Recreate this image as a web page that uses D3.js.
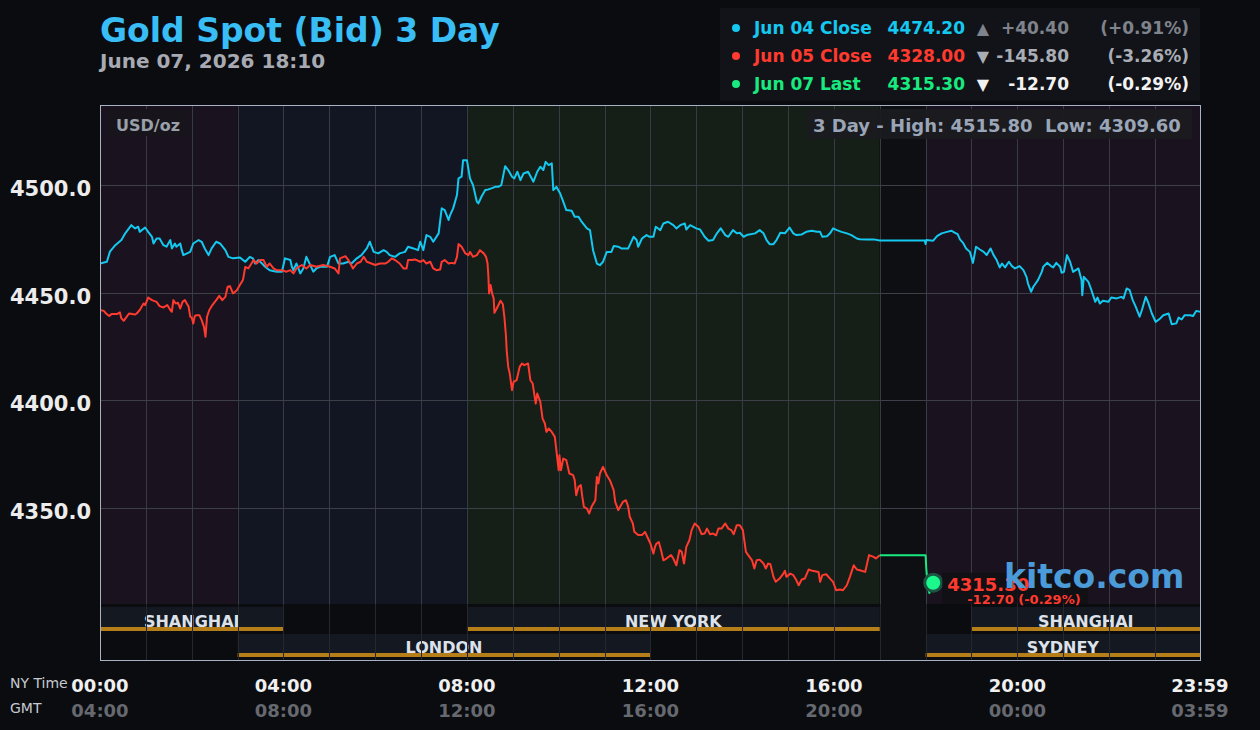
<!DOCTYPE html>
<html>
<head>
<meta charset="utf-8">
<script src="https://cdn.jsdelivr.net/npm/d3@7"></script>
<style>
body { margin: 0; background: #0b0c10; }
svg { display: block; }
text { font-family: "DejaVu Sans", sans-serif; white-space: pre; }
</style>
</head>
<body>
<div id="chart"></div>
<script>
// minutes after 00:00 NY time, price
var jun04 = [[0,4463.5],[9,4464.3],[13,4469.0],[20,4472.0],[28,4474.4],[33,4477.5],[41,4481.3],[46,4479.8],[50,4480.6],[52,4478.2],[59,4480.2],[63,4478.2],[68,4475.9],[70,4472.8],[74,4475.1],[78,4475.1],[83,4472.0],[87,4471.3],[92,4474.4],[94,4470.5],[98,4472.8],[100,4471.3],[105,4472.8],[107,4469.7],[109,4467.4],[118,4468.9],[122,4472.8],[129,4474.4],[133,4473.6],[137,4470.5],[142,4467.4],[146,4470.5],[152,4473.6],[157,4472.8],[164,4469.7],[168,4466.6],[174,4465.9],[183,4466.3],[190,4464.3],[196,4466.6],[200,4465.9],[203,4463.5],[207,4465.1],[212,4463.5],[216,4462.0],[222,4460.4],[231,4459.7],[238,4459.7],[242,4465.9],[249,4465.1],[251,4462.0],[253,4460.4],[257,4463.5],[262,4458.9],[266,4461.2],[270,4466.6],[275,4462.8],[279,4459.7],[283,4461.2],[288,4462.0],[297,4462.0],[301,4466.6],[307,4467.4],[312,4463.5],[318,4463.5],[325,4464.3],[329,4463.5],[336,4465.9],[342,4467.4],[349,4470.5],[353,4473.6],[358,4468.9],[364,4468.2],[371,4469.7],[375,4468.9],[379,4467.4],[386,4466.6],[392,4468.2],[399,4468.9],[403,4471.3],[410,4470.5],[416,4469.7],[419,4473.6],[423,4469.7],[427,4476.7],[432,4475.9],[436,4473.6],[443,4477.5],[447,4489.1],[451,4488.3],[456,4483.7],[458,4486.0],[462,4489.1],[467,4495.3],[469,4503.0],[473,4503.8],[475,4511.5],[480,4511.5],[484,4503.0],[488,4499.9],[493,4492.2],[495,4491.4],[499,4494.5],[504,4497.6],[508,4497.9],[512,4498.4],[517,4499.1],[521,4499.1],[525,4499.9],[530,4508.7],[534,4506.9],[539,4503.8],[542,4503.0],[546,4506.1],[550,4502.2],[554,4505.3],[560,4506.1],[567,4501.5],[572,4506.1],[576,4508.4],[580,4506.9],[583,4510.7],[587,4509.2],[591,4510.0],[593,4497.6],[597,4499.1],[602,4496.0],[606,4492.2],[610,4488.3],[617,4488.0],[621,4485.2],[626,4485.2],[630,4482.9],[637,4479.8],[641,4479.0],[645,4469.7],[650,4463.5],[654,4462.7],[658,4464.3],[663,4468.9],[669,4468.9],[672,4471.6],[678,4471.3],[682,4470.5],[691,4470.5],[698,4475.9],[702,4474.4],[704,4471.3],[709,4475.1],[715,4476.7],[719,4475.9],[724,4475.9],[727,4480.6],[733,4479.0],[737,4482.1],[743,4482.9],[750,4481.3],[754,4479.8],[759,4481.3],[765,4482.1],[767,4479.3],[772,4481.3],[780,4479.8],[785,4479.3],[791,4475.9],[796,4474.1],[802,4474.4],[807,4477.5],[812,4479.8],[818,4476.7],[822,4475.9],[828,4479.0],[833,4477.5],[837,4477.8],[842,4475.9],[846,4476.7],[857,4477.5],[863,4479.0],[868,4477.5],[872,4474.4],[876,4472.5],[881,4472.5],[885,4474.4],[890,4477.8],[896,4477.5],[902,4480.2],[907,4477.5],[911,4476.7],[918,4477.0],[924,4478.2],[931,4478.7],[938,4478.2],[942,4478.2],[945,4475.9],[951,4476.2],[955,4477.5],[959,4479.8],[964,4479.0],[970,4478.2],[977,4477.5],[983,4476.7],[990,4475.1],[994,4474.8],[1003,4474.7],[1012,4474.7],[1020,4474.2],[1079,4474.2],[1080,4472.5],[1081,4474.4],[1090,4474.1],[1095,4476.2],[1101,4477.5],[1108,4478.2],[1114,4478.7],[1118,4477.8],[1122,4477.1],[1125,4474.7],[1129,4473.1],[1133,4470.5],[1138,4468.9],[1142,4463.8],[1146,4471.3],[1151,4470.0],[1156,4468.9],[1160,4467.4],[1165,4470.5],[1169,4467.4],[1173,4465.1],[1177,4461.7],[1180,4463.5],[1184,4461.7],[1189,4464.3],[1193,4462.3],[1197,4461.2],[1203,4462.3],[1208,4460.4],[1212,4457.3],[1214,4454.2],[1218,4450.4],[1221,4452.7],[1227,4455.8],[1232,4459.6],[1234,4462.0],[1239,4463.8],[1244,4462.3],[1247,4461.7],[1251,4463.8],[1256,4462.0],[1258,4459.2],[1261,4459.6],[1265,4467.4],[1269,4464.3],[1273,4459.6],[1280,4461.2],[1284,4455.8],[1285,4448.8],[1287,4457.3],[1293,4455.0],[1297,4451.1],[1302,4445.7],[1305,4447.7],[1308,4444.9],[1312,4446.2],[1319,4445.7],[1323,4447.7],[1330,4447.3],[1336,4448.0],[1339,4447.3],[1343,4451.9],[1347,4451.1],[1351,4446.5],[1355,4443.4],[1360,4438.8],[1363,4441.9],[1368,4448.0],[1371,4445.7],[1376,4440.3],[1381,4436.4],[1387,4438.0],[1391,4439.5],[1398,4440.3],[1402,4435.3],[1408,4435.7],[1411,4438.4],[1415,4437.5],[1419,4439.5],[1426,4439.5],[1430,4439.1],[1434,4441.5],[1439,4441.1]];

var jun05 = [[0,4441.9],[5,4441.5],[8,4440.3],[12,4439.1],[15,4440.0],[22,4440.0],[26,4440.8],[28,4438.0],[31,4436.9],[35,4438.8],[38,4440.3],[46,4439.8],[48,4440.3],[52,4441.9],[57,4444.9],[59,4444.2],[63,4447.7],[68,4446.5],[74,4445.7],[78,4443.7],[83,4443.1],[88,4444.2],[92,4441.9],[94,4441.1],[96,4446.5],[99,4444.9],[102,4445.3],[105,4442.6],[108,4445.7],[111,4446.5],[116,4443.4],[118,4438.8],[120,4438.4],[122,4435.6],[124,4439.1],[126,4439.5],[130,4439.5],[133,4437.2],[136,4434.1],[138,4429.5],[140,4438.8],[143,4441.9],[147,4444.2],[152,4446.5],[156,4448.5],[160,4446.5],[164,4448.0],[167,4452.7],[170,4453.0],[174,4449.6],[179,4451.1],[183,4453.5],[187,4455.8],[190,4461.9],[194,4461.2],[201,4465.1],[205,4463.5],[209,4465.1],[214,4465.1],[218,4462.0],[222,4463.5],[227,4461.2],[231,4460.4],[238,4460.4],[244,4459.7],[249,4460.4],[253,4458.9],[257,4461.2],[264,4462.8],[270,4461.2],[275,4462.8],[283,4462.0],[292,4462.8],[301,4462.0],[307,4461.2],[312,4458.9],[314,4465.9],[321,4466.9],[325,4465.1],[331,4461.2],[336,4463.5],[341,4464.3],[345,4466.6],[349,4464.3],[355,4463.5],[360,4462.8],[366,4463.5],[373,4463.5],[377,4464.3],[382,4465.9],[386,4465.1],[392,4463.5],[397,4461.2],[401,4461.2],[403,4465.1],[408,4465.1],[412,4465.4],[419,4464.3],[423,4465.1],[427,4463.5],[432,4464.3],[436,4461.2],[440,4460.4],[445,4460.7],[447,4464.3],[451,4465.1],[456,4463.5],[460,4463.8],[464,4463.5],[467,4466.6],[469,4472.5],[473,4471.3],[478,4468.2],[482,4467.4],[484,4468.9],[488,4466.6],[493,4467.4],[497,4469.7],[502,4468.2],[505,4466.6],[507,4463.5],[508,4458.1],[509,4449.6],[511,4453.5],[513,4449.6],[515,4447.3],[516,4440.6],[519,4442.6],[524,4446.2],[527,4444.6],[529,4438.7],[531,4430.2],[532,4423.3],[534,4415.5],[536,4412.4],[539,4404.7],[541,4408.5],[545,4409.3],[549,4415.5],[552,4417.1],[555,4416.3],[560,4417.1],[563,4409.3],[566,4407.8],[568,4403.1],[570,4398.5],[572,4403.1],[576,4399.3],[579,4391.5],[582,4389.2],[584,4385.3],[587,4386.9],[591,4385.3],[595,4383.0],[597,4376.8],[600,4367.5],[601,4374.5],[603,4367.5],[606,4372.9],[610,4372.2],[614,4366.0],[619,4365.2],[621,4362.9],[623,4355.9],[626,4359.8],[629,4360.6],[631,4355.1],[633,4350.5],[637,4349.7],[640,4347.4],[643,4350.5],[648,4353.6],[650,4364.4],[652,4361.4],[654,4366.0],[658,4369.1],[663,4365.2],[667,4362.9],[672,4358.3],[674,4352.8],[678,4349.0],[684,4352.8],[688,4353.6],[691,4350.5],[693,4345.9],[697,4342.8],[699,4338.9],[704,4337.4],[709,4337.4],[713,4338.9],[717,4335.8],[720,4333.5],[722,4331.2],[724,4328.8],[726,4331.9],[728,4333.5],[731,4334.2],[734,4330.4],[737,4325.7],[741,4326.5],[747,4328.1],[750,4326.5],[754,4323.4],[758,4330.4],[761,4329.6],[764,4324.2],[767,4331.9],[771,4335.0],[774,4339.7],[778,4342.8],[783,4341.2],[787,4337.8],[791,4338.1],[794,4340.4],[798,4337.8],[802,4338.1],[806,4337.3],[809,4340.4],[813,4340.4],[818,4342.8],[822,4340.4],[826,4339.7],[829,4337.8],[833,4342.0],[837,4342.0],[841,4339.7],[845,4329.6],[848,4328.1],[853,4325.7],[856,4321.9],[859,4325.7],[863,4326.0],[868,4324.2],[871,4321.9],[874,4324.2],[877,4323.9],[881,4318.0],[884,4315.7],[889,4317.2],[894,4319.5],[896,4320.8],[898,4318.0],[903,4319.5],[907,4318.8],[911,4316.4],[914,4314.1],[918,4316.8],[922,4317.2],[927,4321.4],[932,4320.8],[940,4320.3],[942,4315.7],[945,4318.8],[950,4319.2],[955,4317.2],[959,4315.7],[963,4311.8],[968,4312.1],[972,4311.8],[977,4314.1],[981,4318.0],[986,4323.4],[990,4321.4],[994,4321.1],[1001,4320.3],[1006,4328.1],[1012,4327.3],[1015,4326.5],[1020,4328.0]];

var jun07 = [[1020,4328.0],[1080,4328.0],[1081,4321.5],[1083,4313.0],[1085,4310.5],[1087,4313.8],[1090,4315.3]];

var yTicks = [4350, 4400, 4450, 4500];
var xTickMinutes = [0, 240, 480, 720, 960, 1200, 1439];
var nyTickLabels = ["00:00", "04:00", "08:00", "12:00", "16:00", "20:00", "23:59"];
var gmtTickLabels = ["04:00", "08:00", "12:00", "16:00", "20:00", "00:00", "03:59"];

var zoneStart = [0, 180, 480, 1020, 1080];
var zoneEnd = [180, 480, 1020, 1080, 1439];
var zoneKey = ["asia", "europe", "america", "closed", "asia"];

var sessionNames = ["SHANGHAI", "LONDON", "NEW YORK", "SYDNEY", "SHANGHAI"];
var sessionStart = [0, 180, 480, 1080, 1140];
var sessionEnd = [240, 720, 1020, 1439, 1439];
var sessionRow = [0, 1, 0, 1, 0];

var legendLabels = ["Jun 04 Close", "Jun 05 Close", "Jun 07 Last"];
var legendValues = ["4474.20", "4328.00", "4315.30"];
var legendArrows = ["\u25B2", "\u25BC", "\u25BC"];
var legendChanges = ["+40.40", "-145.80", "-12.70"];
var legendPcts = ["(+0.91%)", "(-3.26%)", "(-0.29%)"];

var lastValue = 4315.3, lastMinute = 1090;
var highValue = "4515.80", lowValue = "4309.60";

var width = 1260, height = 730;
var plotLeft = 100, plotRight = 1200, plotTop = 105, plotBottom = 604, frameBottom = 660;
var seriesColors = ["#14c8f0", "#ff3a2e", "#18ea80"];
var changeColors = ["#7f838b", "#a9adb5", "#f2f2f2"];
var zoneColors = {asia: "#1a121e", europe: "#111622", america: "#161e18", closed: "#0e0f12"};

var x = d3.scaleLinear().domain([0, 1439]).range([plotLeft, plotRight]);
var y = d3.scaleLinear().domain([4305.4, 4537.1]).range([plotBottom, plotTop]);

var svg = d3.select("#chart").append("svg")
	.attr("width", width)
	.attr("height", height);

svg.append("rect")
	.attr("width", width)
	.attr("height", height)
	.attr("fill", "#0b0c10");

svg.append("rect")
	.attr("x", plotLeft)
	.attr("y", plotTop)
	.attr("width", plotRight - plotLeft)
	.attr("height", frameBottom - plotTop)
	.attr("fill", "#0b0c0f");

// session background zones
svg.selectAll(".zone")
	.data(zoneStart)
	.enter().append("rect")
	.attr("class", "zone")
	.attr("x", function (d) { return x(d); })
	.attr("y", plotTop)
	.attr("width", function (d, i) { return x(zoneEnd[i]) - x(d); })
	.attr("height", function (d, i) { return (zoneKey[i] == "closed" ? frameBottom : plotBottom) - plotTop; })
	.attr("fill", function (d, i) { return zoneColors[zoneKey[i]]; });

// session bars under the plot
var rowTop = [607, 634], rowHeight = [24, 23];
var sessions = svg.selectAll(".session")
	.data(sessionNames)
	.enter().append("g")
	.attr("class", "session");

sessions.append("rect")
	.attr("x", function (d, i) { return x(sessionStart[i]); })
	.attr("y", function (d, i) { return rowTop[sessionRow[i]]; })
	.attr("width", function (d, i) { return x(sessionEnd[i]) - x(sessionStart[i]); })
	.attr("height", function (d, i) { return rowHeight[sessionRow[i]]; })
	.attr("fill", "#141821");

// grid
var hours = d3.range(60, 1439, 60);
svg.selectAll(".vgrid")
	.data(hours)
	.enter().append("line")
	.attr("x1", function (d) { return Math.round(x(d)) + 0.5; })
	.attr("x2", function (d) { return Math.round(x(d)) + 0.5; })
	.attr("y1", plotTop)
	.attr("y2", plotBottom)
	.attr("stroke", "#383b43");
svg.selectAll(".vgrid2")
	.data(hours)
	.enter().append("line")
	.attr("x1", function (d) { return Math.round(x(d)) + 0.5; })
	.attr("x2", function (d) { return Math.round(x(d)) + 0.5; })
	.attr("y1", plotBottom)
	.attr("y2", frameBottom)
	.attr("stroke", "#25272c");
svg.selectAll(".hgrid")
	.data(yTicks)
	.enter().append("line")
	.attr("x1", plotLeft)
	.attr("x2", plotRight)
	.attr("y1", function (d) { return Math.round(y(d)) + 0.5; })
	.attr("y2", function (d) { return Math.round(y(d)) + 0.5; })
	.attr("stroke", "#3c3f47");

sessions.append("text")
	.attr("x", function (d, i) { return (x(sessionStart[i]) + x(sessionEnd[i])) / 2; })
	.attr("y", function (d, i) { return rowTop[sessionRow[i]] + rowHeight[sessionRow[i]] - 4.5; })
	.attr("text-anchor", "middle")
	.attr("font-size", 16)
	.attr("font-weight", "bold")
	.attr("fill", "#dde2ea")
	.text(function (d) { return d; });

sessions.append("rect")
	.attr("x", function (d, i) { return x(sessionStart[i]); })
	.attr("y", function (d, i) { return rowTop[sessionRow[i]] + rowHeight[sessionRow[i]] - 4; })
	.attr("width", function (d, i) { return x(sessionEnd[i]) - x(sessionStart[i]); })
	.attr("height", 4)
	.attr("fill", "#b67e18");

// price lines
svg.append("clipPath")
	.attr("id", "plotClip")
	.append("rect")
	.attr("x", plotLeft)
	.attr("y", plotTop)
	.attr("width", plotRight - plotLeft)
	.attr("height", plotBottom - plotTop);

var line = d3.line()
	.x(function (d) { return x(d[0]); })
	.y(function (d) { return y(d[1]); });

var lines = svg.append("g").attr("clip-path", "url(#plotClip)");
[jun04, jun05, jun07].forEach(function (series, i) {
	lines.append("path")
		.datum(series)
		.attr("d", line)
		.attr("fill", "none")
		.attr("stroke", seriesColors[i])
		.attr("stroke-width", 2)
		.attr("stroke-linejoin", "round");
});

// frame
svg.append("rect")
	.attr("x", plotLeft + 0.5)
	.attr("y", plotTop + 0.5)
	.attr("width", plotRight - plotLeft)
	.attr("height", frameBottom - plotTop)
	.attr("fill", "none")
	.attr("stroke", "#a9b2c4");

// y axis labels
svg.selectAll(".ylab")
	.data(yTicks)
	.enter().append("text")
	.attr("x", 91)
	.attr("y", function (d) { return y(d) + 11; })
	.attr("text-anchor", "end")
	.attr("font-size", 21)
	.attr("font-weight", "bold")
	.attr("fill", "#ececec")
	.text(function (d) { return d3.format(".1f")(d); });

// x axis labels
svg.selectAll(".nylab")
	.data(nyTickLabels)
	.enter().append("text")
	.attr("x", function (d, i) { return x(xTickMinutes[i]); })
	.attr("y", 692)
	.attr("text-anchor", "middle")
	.attr("font-size", 18)
	.attr("font-weight", "bold")
	.attr("fill", "#f0f0f0")
	.text(function (d) { return d; });
svg.selectAll(".gmtlab")
	.data(gmtTickLabels)
	.enter().append("text")
	.attr("x", function (d, i) { return x(xTickMinutes[i]); })
	.attr("y", 717)
	.attr("text-anchor", "middle")
	.attr("font-size", 18)
	.attr("font-weight", "bold")
	.attr("fill", "#66696f")
	.text(function (d) { return d; });
svg.append("text").attr("x", 10).attr("y", 688).attr("font-size", 14)
	.attr("fill", "#c6c9cf").text("NY Time");
svg.append("text").attr("x", 10).attr("y", 713).attr("font-size", 14)
	.attr("fill", "#c6c9cf").text("GMT");

// title
svg.append("text")
	.attr("x", 100)
	.attr("y", 42)
	.attr("font-size", 33)
	.attr("font-weight", "bold")
	.attr("fill", "#38bdf5")
	.text("Gold Spot (Bid) 3 Day");
svg.append("text")
	.attr("x", 100)
	.attr("y", 68)
	.attr("font-size", 20)
	.attr("font-weight", "bold")
	.attr("fill", "#a7aab2")
	.text("June 07, 2026 18:10");

// legend
svg.append("rect")
	.attr("x", 720)
	.attr("y", 8)
	.attr("width", 480)
	.attr("height", 93)
	.attr("fill", "#121318");
var legend = svg.selectAll(".legrow")
	.data(legendLabels)
	.enter().append("g")
	.attr("transform", function (d, i) { return "translate(0," + (34 + i * 28) + ")"; });
legend.append("circle")
	.attr("cx", 736)
	.attr("cy", -6)
	.attr("r", 4)
	.attr("fill", function (d, i) { return seriesColors[i]; });
legend.append("text")
	.attr("x", 754)
	.attr("font-size", 17)
	.attr("font-weight", "bold")
	.attr("fill", function (d, i) { return seriesColors[i]; })
	.text(function (d) { return d; });
legend.append("text")
	.attr("x", 965)
	.attr("text-anchor", "end")
	.attr("font-size", 17)
	.attr("font-weight", "bold")
	.attr("fill", function (d, i) { return seriesColors[i]; })
	.text(function (d, i) { return legendValues[i]; });
legend.append("text")
	.attr("x", 983)
	.attr("text-anchor", "middle")
	.attr("font-size", 16)
	.attr("fill", function (d, i) { return changeColors[i]; })
	.text(function (d, i) { return legendArrows[i]; });
legend.append("text")
	.attr("x", 1069)
	.attr("text-anchor", "end")
	.attr("font-size", 17)
	.attr("font-weight", "bold")
	.attr("fill", function (d, i) { return changeColors[i]; })
	.text(function (d, i) { return legendChanges[i]; });
legend.append("text")
	.attr("x", 1189)
	.attr("text-anchor", "end")
	.attr("font-size", 17)
	.attr("font-weight", "bold")
	.attr("fill", function (d, i) { return changeColors[i]; })
	.text(function (d, i) { return legendPcts[i]; });

// unit and range boxes
svg.append("rect").attr("x", 108).attr("y", 109).attr("width", 82).attr("height", 27)
	.attr("fill", "#17151b");
svg.append("text").attr("x", 116).attr("y", 131)
	.attr("font-size", 16).attr("font-weight", "bold").attr("fill", "#9aa0a9")
	.text("USD/oz");
svg.append("rect").attr("x", 807).attr("y", 109).attr("width", 385).attr("height", 30)
	.attr("fill", "#1a1b20").attr("opacity", 0.92);
svg.append("text").attr("x", 813).attr("y", 132)
	.attr("font-size", 18).attr("font-weight", "bold").attr("fill", "#9aa5b7")
	.text("3 Day - High: " + highValue + "  Low: " + lowValue);

// last price marker
var lx = x(lastMinute), ly = y(lastValue);
svg.append("circle").attr("cx", lx).attr("cy", ly).attr("r", 10).attr("fill", "#1b5645");
svg.append("circle").attr("cx", lx).attr("cy", ly).attr("r", 7).attr("fill", "#1cf98c");
svg.append("rect").attr("x", lx + 9).attr("y", ly - 10).attr("width", 146).attr("height", 31)
	.attr("fill", "#101114").attr("opacity", 0.85);
svg.append("text").attr("x", lx + 14).attr("y", ly + 8)
	.attr("font-size", 18).attr("font-weight", "bold").attr("fill", seriesColors[1])
	.text(d3.format(".2f")(lastValue));
svg.append("text").attr("x", lx + 34).attr("y", ly + 21)
	.attr("font-size", 13).attr("font-weight", "bold").attr("fill", seriesColors[1])
	.text(legendChanges[2] + " " + legendPcts[2]);

// watermark sits over the last price label, as on the source chart
svg.append("text")
	.attr("x", 1004)
	.attr("y", 588)
	.attr("font-size", 33)
	.attr("font-weight", "bold")
	.attr("fill", "#4a9bd8")
	.text("kitco.com");
</script>
</body>
</html>
